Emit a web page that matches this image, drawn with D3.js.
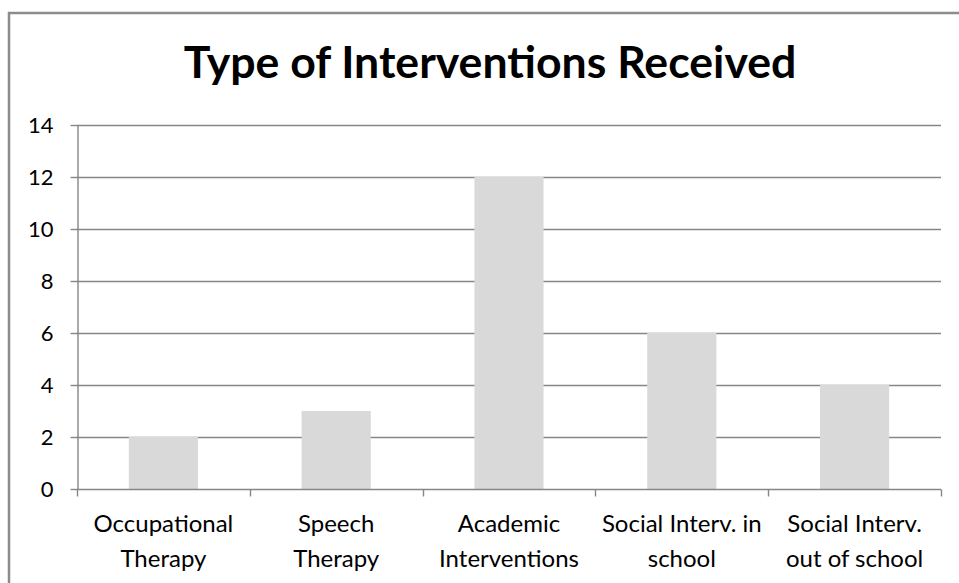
<!DOCTYPE html>
<html><head><meta charset="utf-8">
<script src="https://cdn.jsdelivr.net/npm/d3@7"></script>
<style>body{margin:0;background:#fff}svg{display:block}</style>
</head><body>
<svg id="c" width="959" height="583"></svg>
<script>
const categories = [["Occupational","Therapy"],["Speech","Therapy"],["Academic","Interventions"],["Social Interv. in","school"],["Social Interv.","out of school"]];
const values = [2, 3, 12, 6, 4];
const yTicks = [0, 2, 4, 6, 8, 10, 12, 14];
const title = "Type of Interventions Received";

const svg = d3.select("#c");
const W = 959, H = 583;
const pLeft = 77, pRight = 941, pTop = 125, pBottom = 489;
const font = "Lato, 'Open Sans', sans-serif";

// outer border
svg.append("rect").attr("x", 9).attr("y", 13).attr("width", W + 10).attr("height", H + 10)
  .attr("fill", "#fff").attr("stroke", "#8c8c8c").attr("stroke-width", 2.5);

const x = d3.scaleBand().domain(d3.range(categories.length)).range([pLeft, pRight]).paddingInner(0).paddingOuter(0);
const y = d3.scaleLinear().domain([0, 14]).range([pBottom, pTop]);

// gridlines
svg.append("g").selectAll("line").data(yTicks.filter(d => d > 0)).join("line")
  .attr("x1", pLeft).attr("x2", pRight)
  .attr("y1", d => Math.round(y(d)) + 0.5).attr("y2", d => Math.round(y(d)) + 0.5)
  .attr("stroke", "#868686").attr("stroke-width", 1.4);

// bars
const bw = x.bandwidth() * 0.4;
svg.append("g").selectAll("rect").data(values).join("rect")
  .attr("x", (d, i) => x(i) + (x.bandwidth() - bw) / 2)
  .attr("width", bw)
  .attr("y", d => y(d))
  .attr("height", d => y(0) - y(d))
  .attr("fill", "#d9d9d9");

// y axis
const ya = svg.append("g").attr("transform", `translate(${pLeft + 0.5},0)`)
  .call(d3.axisLeft(y).tickValues(yTicks).tickSize(7).tickPadding(17).tickSizeOuter(0));
ya.select(".domain").attr("stroke", "#868686").attr("stroke-width", 1.4);
ya.selectAll(".tick line").attr("stroke", "#868686").attr("stroke-width", 1.4);
ya.selectAll(".tick text").attr("font-family", font).attr("font-size", 22).attr("fill", "#000");

// x axis
const bx = svg.append("g").attr("transform", `translate(0,${Math.round(pBottom) + 0.5})`);
bx.append("line").attr("x1", pLeft).attr("x2", pRight).attr("stroke", "#868686").attr("stroke-width", 1.4);
const bounds = d3.range(categories.length + 1).map(i => i < categories.length ? x(i) : pRight);
bx.selectAll(".tk").data(bounds).join("line").attr("class", "tk")
  .attr("x1", d => Math.round(d) + 0.5).attr("x2", d => Math.round(d) + 0.5)
  .attr("y1", 0).attr("y2", 7).attr("stroke", "#868686").attr("stroke-width", 1.4);

// category labels
const lab = svg.append("g").selectAll("text").data(categories).join("text")
  .attr("x", (d, i) => x(i) + x.bandwidth() / 2)
  .attr("y", 532)
  .attr("text-anchor", "middle").attr("font-family", font).attr("font-size", 24).attr("fill", "#000");
lab.each(function(d) {
  const t = d3.select(this);
  d.forEach((line, k) => {
    t.append("tspan").attr("x", t.attr("x")).attr("dy", k === 0 ? 0 : 35).text(line);
  });
});

// title
svg.append("text").attr("x", 490).attr("y", 78).attr("text-anchor", "middle")
  .attr("font-family", font).attr("font-weight", "bold").attr("font-size", 44.6).attr("fill", "#000")
  .text(title);
</script>
</body></html>
